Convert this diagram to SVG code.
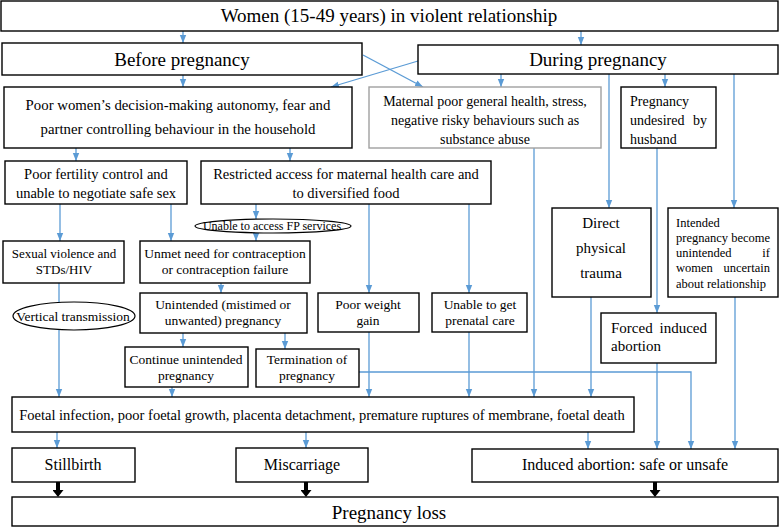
<svg xmlns="http://www.w3.org/2000/svg" width="779" height="527" viewBox="0 0 779 527">
<style>
.b{fill:#fff;stroke:#000;stroke-width:1.4}
.g{fill:#fff;stroke:#a0a0a0;stroke-width:1.4}
.t{fill:#000}
.c{text-anchor:middle}
.e{text-anchor:end}
.a{fill:none;stroke:#5b9bd5;stroke-width:1.3}
.k{fill:none;stroke:#000;stroke-width:4}
</style>
<defs>
<marker id="ah" markerUnits="userSpaceOnUse" markerWidth="8" markerHeight="8" viewBox="0 0 8 8" refX="8" refY="4" orient="auto"><path d="M0,0.8 L8,4 L0,7.2 Z" fill="#5b9bd5"/></marker>
<marker id="kh" markerUnits="userSpaceOnUse" markerWidth="7" markerHeight="11" viewBox="0 0 7 11" refX="0" refY="5.5" orient="auto"><path d="M0,0 L7,5.5 L0,11 Z" fill="#000"/></marker>
</defs>
<rect width="779" height="527" fill="#fff"/>

<g id="connectors">
<line class="a" x1="183" y1="31" x2="183" y2="43" marker-end="url(#ah)"/>
<line class="a" x1="581" y1="31" x2="581" y2="45" marker-end="url(#ah)"/>
<line class="a" x1="183" y1="75" x2="183" y2="87" marker-end="url(#ah)"/>
<line class="a" x1="363" y1="55" x2="423" y2="87" marker-end="url(#ah)"/>
<line class="a" x1="418" y1="61" x2="331" y2="87" marker-end="url(#ah)"/>
<line class="a" x1="501" y1="74" x2="501" y2="87" marker-end="url(#ah)"/>
<line class="a" x1="609" y1="74" x2="609" y2="208" marker-end="url(#ah)"/>
<line class="a" x1="665" y1="74" x2="665" y2="87" marker-end="url(#ah)"/>
<line class="a" x1="734" y1="74" x2="734" y2="208" marker-end="url(#ah)"/>
<line class="a" x1="76" y1="148" x2="76" y2="161" marker-end="url(#ah)"/>
<line class="a" x1="290" y1="148" x2="290" y2="161" marker-end="url(#ah)"/>
<line class="a" x1="60" y1="204" x2="60" y2="241" marker-end="url(#ah)"/>
<line class="a" x1="171" y1="204" x2="171" y2="241" marker-end="url(#ah)"/>
<line class="a" x1="256" y1="204" x2="256" y2="219" marker-end="url(#ah)"/>
<line class="a" x1="256" y1="233" x2="256" y2="241" marker-end="url(#ah)"/>
<line class="a" x1="369" y1="204" x2="369" y2="293" marker-end="url(#ah)"/>
<line class="a" x1="469" y1="204" x2="469" y2="293" marker-end="url(#ah)"/>
<line class="a" x1="534" y1="148" x2="534" y2="397" marker-end="url(#ah)"/>
<line class="a" x1="59" y1="283" x2="59" y2="397" marker-end="url(#ah)"/>
<line class="a" x1="221" y1="283" x2="221" y2="293" marker-end="url(#ah)"/>
<line class="a" x1="183" y1="333" x2="183" y2="347" marker-end="url(#ah)"/>
<line class="a" x1="285" y1="333" x2="285" y2="349" marker-end="url(#ah)"/>
<line class="a" x1="172" y1="387" x2="172" y2="397" marker-end="url(#ah)"/>
<line class="a" x1="369" y1="332" x2="369" y2="397" marker-end="url(#ah)"/>
<line class="a" x1="469" y1="332" x2="469" y2="397" marker-end="url(#ah)"/>
<line class="a" x1="591" y1="297" x2="591" y2="397" marker-end="url(#ah)"/>
<line class="a" x1="657" y1="148" x2="657" y2="313" marker-end="url(#ah)"/>
<line class="a" x1="657" y1="363" x2="657" y2="449" marker-end="url(#ah)"/>
<polyline class="a" points="359,372 691,372 691,449" marker-end="url(#ah)"/>
<line class="a" x1="735" y1="297" x2="735" y2="449" marker-end="url(#ah)"/>
<line class="a" x1="57" y1="432" x2="57" y2="448" marker-end="url(#ah)"/>
<line class="a" x1="306" y1="432" x2="306" y2="448" marker-end="url(#ah)"/>
<line class="a" x1="588" y1="432" x2="588" y2="449" marker-end="url(#ah)"/>
<line class="k" x1="58" y1="482" x2="58" y2="490" marker-end="url(#kh)"/>
<line class="k" x1="306" y1="482" x2="306" y2="490" marker-end="url(#kh)"/>
<line class="k" x1="655" y1="482" x2="655" y2="490" marker-end="url(#kh)"/>
</g>

<g id="nodes" font-family="'Liberation Serif', 'Times New Roman', 'DejaVu Serif', serif">
<g id="women"><rect class="b" x="1" y="1" width="777" height="30"/><text class="t c" x="389" y="22" font-size="19">Women (15-49 years) in violent relationship</text></g>
<g id="before"><rect class="b" x="2" y="43" width="360" height="32"/><text class="t c" x="182" y="66" font-size="19">Before pregnancy</text></g>
<g id="during"><rect class="b" x="418" y="45" width="360" height="29"/><text class="t c" x="598" y="66" font-size="19">During pregnancy</text></g>

<g id="autonomy"><rect class="b" x="4" y="87" width="348" height="61"/><text class="t c" x="178" y="110" font-size="14.8">Poor women’s decision-making autonomy, fear and</text><text class="t c" x="178" y="134" font-size="14.8">partner controlling behaviour in the household</text></g>
<g id="maternal"><rect class="g" x="369" y="87" width="232" height="61"/><text class="t c" x="485" y="106" font-size="14">Maternal poor general health, stress,</text><text class="t c" x="485" y="125" font-size="14">negative risky behaviours such as</text><text class="t c" x="485" y="144" font-size="14">substance abuse</text></g>
<g id="undesired"><rect class="b" x="621" y="87" width="95" height="61"/><text class="t" x="630" y="106" font-size="14">Pregnancy</text><text class="t" x="630" y="125" font-size="14">undesired</text><text class="t e" x="707" y="125" font-size="14">by</text><text class="t" x="630" y="144" font-size="14">husband</text></g>

<g id="fertility"><rect class="b" x="5" y="161" width="182" height="43"/><text class="t c" x="96" y="179" font-size="14.5">Poor fertility control and</text><text class="t c" x="96" y="198" font-size="14.5">unable to negotiate safe sex</text></g>
<g id="restricted"><rect class="b" x="201" y="161" width="290" height="43"/><text class="t c" x="346" y="179" font-size="14.5">Restricted access for maternal health care and</text><text class="t c" x="346" y="198" font-size="14.5">to diversified food</text></g>

<g id="fp"><ellipse cx="273" cy="226" rx="78" ry="7" fill="#fff" stroke="#000" stroke-width="1.2"/><text class="t c" x="272" y="230" font-size="12">Unable to access FP services</text></g>

<g id="sexual"><rect class="b" x="3" y="241" width="121" height="42"/><text class="t c" x="64" y="258" font-size="13">Sexual violence and</text><text class="t c" x="64" y="274" font-size="13">STDs/HIV</text></g>
<g id="unmet"><rect class="b" x="140" y="241" width="170" height="42"/><text class="t c" x="225" y="258" font-size="13.5">Unmet need for contraception</text><text class="t c" x="225" y="274" font-size="13.5">or contraception failure</text></g>

<g id="vertical"><ellipse cx="74" cy="316" rx="61" ry="14" fill="#fff" stroke="#000" stroke-width="1.2"/><text class="t c" x="73" y="321" font-size="13.5">Vertical transmission</text></g>

<g id="direct"><rect class="b" x="552" y="208" width="99" height="89"/><text class="t c" x="601" y="228" font-size="15">Direct</text><text class="t c" x="601" y="253" font-size="15">physical</text><text class="t c" x="601" y="278" font-size="15">trauma</text></g>
<g id="intended"><rect class="b" x="668" y="208" width="110" height="89"/><text class="t" x="676" y="227" font-size="12.5">Intended</text><text class="t" x="676" y="242" font-size="12.5">pregnancy become</text><text class="t" x="676" y="257" font-size="12.5">unintended</text><text class="t e" x="770" y="257" font-size="12.5">if</text><text class="t" x="676" y="272" font-size="12.5">women</text><text class="t e" x="770" y="272" font-size="12.5">uncertain</text><text class="t" x="676" y="288" font-size="12.5">about relationship</text></g>

<g id="unintended"><rect class="b" x="140" y="293" width="167" height="40"/><text class="t c" x="223" y="309" font-size="13.5">Unintended (mistimed or</text><text class="t c" x="223" y="325" font-size="13.5">unwanted) pregnancy</text></g>
<g id="weight"><rect class="b" x="318" y="293" width="101" height="39"/><text class="t c" x="368" y="309" font-size="13.5">Poor weight</text><text class="t c" x="368" y="325" font-size="13.5">gain</text></g>
<g id="prenatal"><rect class="b" x="432" y="293" width="95" height="39"/><text class="t c" x="480" y="309" font-size="13.5">Unable to get</text><text class="t c" x="480" y="325" font-size="13.5">prenatal care</text></g>
<g id="forced"><rect class="b" x="601" y="313" width="115" height="50"/><text class="t" x="611" y="333" font-size="15">Forced</text><text class="t e" x="707" y="333" font-size="15">induced</text><text class="t" x="611" y="351" font-size="15">abortion</text></g>

<g id="continue"><rect class="b" x="125" y="347" width="123" height="40"/><text class="t c" x="186" y="364" font-size="13.5">Continue unintended</text><text class="t c" x="186" y="380" font-size="13.5">pregnancy</text></g>
<g id="termination"><rect class="b" x="256" y="349" width="103" height="38"/><text class="t c" x="307" y="364" font-size="13.5">Termination of</text><text class="t c" x="307" y="380" font-size="13.5">pregnancy</text></g>

<g id="foetal"><rect class="b" x="12" y="397" width="622" height="35"/><text class="t c" x="322" y="420" font-size="14.5">Foetal infection, poor foetal growth, placenta detachment, premature ruptures of membrane, foetal death</text></g>

<g id="stillbirth"><rect class="b" x="12" y="448" width="123" height="34"/><text class="t c" x="73" y="470" font-size="16">Stillbirth</text></g>
<g id="miscarriage"><rect class="b" x="236" y="448" width="132" height="34"/><text class="t c" x="302" y="470" font-size="16">Miscarriage</text></g>
<g id="induced"><rect class="b" x="472" y="449" width="306" height="33"/><text class="t c" x="625" y="470" font-size="16">Induced abortion: safe or unsafe</text></g>

<g id="loss"><rect class="b" x="12" y="497" width="766" height="29"/><text class="t c" x="389" y="519" font-size="19">Pregnancy loss</text></g>
</g>
</svg>
